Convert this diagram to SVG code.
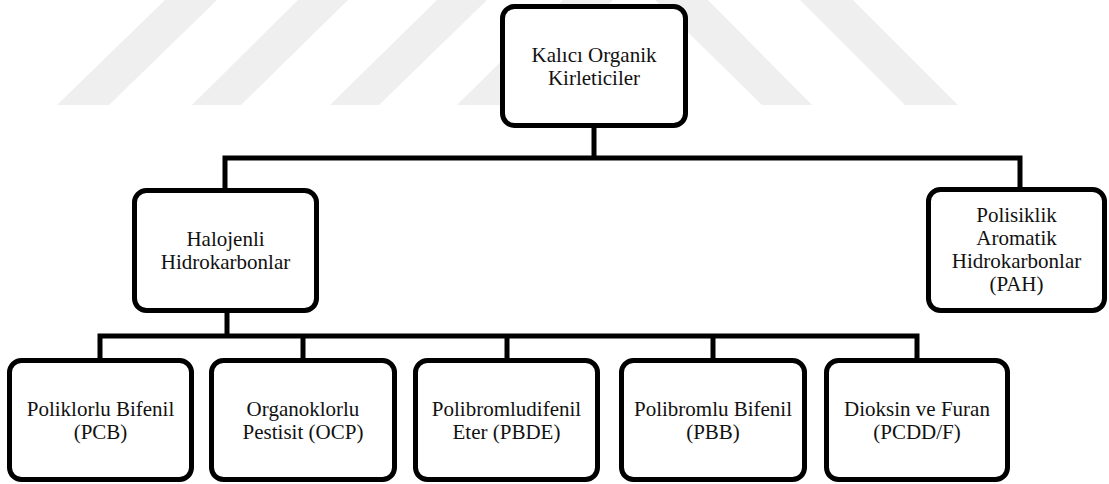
<svg xmlns="http://www.w3.org/2000/svg" width="1109" height="484" viewBox="0 0 1109 484">
  <style>
    .box { fill: #ffffff; stroke: #000000; stroke-width: 5; }
    .lbl { font-size: 21px; fill: #111111; text-anchor: middle; }
    .conn { fill: none; stroke: #000000; stroke-width: 5; stroke-linejoin: miter; stroke-linecap: butt; }
    .wm { fill: #efefef; stroke: none; }
  </style>
  <rect x="0" y="0" width="1109" height="484" fill="#ffffff"/>
  <g id="watermark">
    <polygon class="wm" points="165,0 217,0 109,105 57,105"/>
    <polygon class="wm" points="298,0 348,0 241,105 192,105"/>
    <polygon class="wm" points="437,0 487,0 379,105 330,105"/>
    <polygon class="wm" points="563,0 613,0 507,105 457,105"/>
    <polygon class="wm" points="655,0 708,0 812,105 762,105"/>
    <polygon class="wm" points="800,0 853,0 958,105 905,105"/>
  </g>
  <g id="connectors">
    <polyline class="conn" points="594,128 594,158"/>
    <polyline class="conn" points="225,190 225,158 1020,158 1020,189"/>
    <polyline class="conn" points="227,312 227,336"/>
    <polyline class="conn" points="100,360 100,336 917,336 917,360"/>
    <polyline class="conn" points="303,336 303,360"/>
    <polyline class="conn" points="507,336 507,360"/>
    <polyline class="conn" points="713,336 713,360"/>
  </g>
  <g font-family="Liberation Serif, Times New Roman, DejaVu Serif, serif">
  <g id="node-root">
    <rect class="box" x="502.5" y="6.5" width="183" height="119" rx="12"/>
    <text class="lbl" x="594" y="62">Kalıcı Organik</text>
    <text class="lbl" x="594" y="85">Kirleticiler</text>
  </g>
  <g id="node-halojenli">
    <rect class="box" x="134.5" y="190.5" width="182" height="120" rx="12"/>
    <text class="lbl" x="225.5" y="246">Halojenli</text>
    <text class="lbl" x="225.5" y="269">Hidrokarbonlar</text>
  </g>
  <g id="node-pah">
    <rect class="box" x="928.5" y="189.5" width="176" height="121" rx="12"/>
    <text class="lbl" x="1016.5" y="222">Polisiklik</text>
    <text class="lbl" x="1016.5" y="245">Aromatik</text>
    <text class="lbl" x="1016.5" y="268">Hidrokarbonlar</text>
    <text class="lbl" x="1016.5" y="291">(PAH)</text>
  </g>
  <g id="node-pcb">
    <rect class="box" x="9.5" y="360.5" width="182" height="119" rx="12"/>
    <text class="lbl" x="100.5" y="416">Poliklorlu Bifenil</text>
    <text class="lbl" x="100.5" y="439">(PCB)</text>
  </g>
  <g id="node-ocp">
    <rect class="box" x="211.5" y="360.5" width="183" height="119" rx="12"/>
    <text class="lbl" x="303" y="416">Organoklorlu</text>
    <text class="lbl" x="303" y="439">Pestisit (OCP)</text>
  </g>
  <g id="node-pbde">
    <rect class="box" x="415.5" y="360.5" width="182" height="119" rx="12"/>
    <text class="lbl" x="506.5" y="416">Polibromludifenil</text>
    <text class="lbl" x="506.5" y="439">Eter (PBDE)</text>
  </g>
  <g id="node-pbb">
    <rect class="box" x="621.5" y="360.5" width="183" height="119" rx="12"/>
    <text class="lbl" x="713" y="416">Polibromlu Bifenil</text>
    <text class="lbl" x="713" y="439">(PBB)</text>
  </g>
  <g id="node-pcdd">
    <rect class="box" x="826.5" y="360.5" width="181" height="119" rx="12"/>
    <text class="lbl" x="917" y="416">Dioksin ve Furan</text>
    <text class="lbl" x="917" y="439">(PCDD/F)</text>
  </g>
  </g>
</svg>
